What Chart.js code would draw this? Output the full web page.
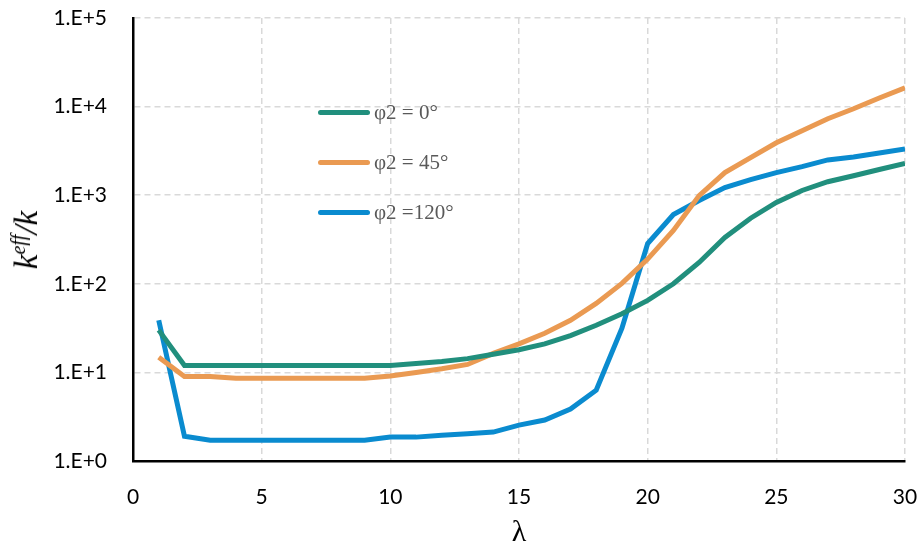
<!DOCTYPE html>
<html>
<head>
<meta charset="utf-8">
<script src="https://cdn.jsdelivr.net/npm/chart.js@4"></script>
<style>
  body { margin: 0; background: #fff; }
  #wrap { position: relative; width: 921px; height: 547px; }
  #legend { position: absolute; left: 318px; top: 87px; font-family: "Liberation Serif", serif; font-size: 21px; color: #595959; }
  #legend .row { height: 50px; display: flex; align-items: center; }
  #legend .swatch { width: 52px; height: 5px; border-radius: 3px; margin-right: 4px; }
  #ytitle { position: absolute; left: 26px; top: 240px; transform: translate(-50%, -50%) rotate(-90deg); font-family: "Liberation Serif", serif; font-style: italic; font-size: 33px; white-space: nowrap; color: #000; }
  #ytitle sup { font-size: 20px; vertical-align: 12px; }
  #xtitle { position: absolute; left: 519px; top: 531px; transform: translate(-50%, -50%); font-family: "Liberation Serif", serif; font-size: 30px; color: #000; }
</style>
</head>
<body>
<div id="wrap">
  <canvas id="myChart" width="921" height="547"></canvas>
  <div id="legend"></div>
  <div id="ytitle">k<sup>eff</sup>/k</div>
  <div id="xtitle">λ</div>
</div>
<script>
// x values (lambda)
const lambda = [1, 2, 3, 4, 5, 6, 7, 8, 9, 10, 11, 12, 13, 14, 15, 16, 17, 18, 19, 20, 21, 22, 23, 24, 25, 26, 27, 28, 29, 30];

// keff/k for each phi2
const phi0 = [30, 12, 12, 12, 12, 12, 12, 12, 12, 12, 12.6, 13.3, 14.3, 16, 18, 21, 26, 34, 46, 65, 100, 174, 333, 550, 830, 1130, 1420, 1660, 1950, 2280];
const phi45 = [14.8, 9.0, 9.0, 8.6, 8.6, 8.6, 8.6, 8.6, 8.6, 9.1, 10, 11, 12.3, 16.4, 21, 27.6, 38.7, 60, 101, 190, 400, 990, 1800, 2660, 3900, 5330, 7300, 9450, 12500, 16300];
const phi120 = [38.7, 1.9, 1.72, 1.72, 1.72, 1.72, 1.72, 1.72, 1.72, 1.86, 1.86, 1.95, 2.03, 2.12, 2.54, 2.9, 3.85, 6.3, 31.6, 285, 605, 870, 1220, 1500, 1800, 2100, 2500, 2700, 3000, 3330];

const seriesLabels = ['φ2 = 0°', 'φ2 = 45°', 'φ2 =120°'];
const seriesColors = ['#218f7d', '#ea9a52', '#0a8bcf'];
const yTicks = [1, 10, 100, 1000, 10000, 100000];

function pts(vals) {
  return lambda.map((x, i) => ({ x: x, y: vals[i] }));
}

const data = {
  datasets: [phi0, phi45, phi120].map((vals, i) => ({
    label: seriesLabels[i],
    data: pts(vals),
    borderColor: seriesColors[i],
    backgroundColor: seriesColors[i],
    borderWidth: 5,
    pointRadius: 0,
    tension: 0,
    fill: false
  }))
};

const tickFont = { family: 'Lato', size: 21 };

const config = {
  type: 'line',
  data: data,
  options: {
    responsive: false,
    animation: false,
    devicePixelRatio: 1,
    layout: { padding: { top: 18, right: 16, left: 0, bottom: 0 } },
    plugins: {
      legend: { display: false },
      tooltip: { enabled: false }
    },
    scales: {
      x: {
        type: 'linear',
        min: 0,
        max: 30,
        afterFit: s => { s.height = 86; s.paddingLeft = 0; s.paddingRight = 0; },
        ticks: {
          stepSize: 5,
          padding: 24,
          color: '#000',
          font: tickFont
        },
        grid: {
          drawTicks: false,
          lineWidth: 1.5,
          color: ctx => (ctx.tick && ctx.tick.value === 0) ? 'rgba(0,0,0,0)' : '#d9d9d9'
        },
        border: { display: true, color: '#000', width: 2.5, dash: [6, 4] }
      },
      y: {
        type: 'logarithmic',
        min: 1,
        max: 100000,
        afterFit: s => { s.width = 133; s.paddingTop = 0; s.paddingBottom = 0; },
        afterBuildTicks: s => { s.ticks = yTicks.map(v => ({ value: v })); },
        ticks: {
          padding: 26,
          color: '#000',
          font: tickFont,
          callback: v => '1.E+' + Math.round(Math.log10(v))
        },
        grid: {
          drawTicks: false,
          lineWidth: 1.5,
          color: ctx => (ctx.tick && ctx.tick.value === 1) ? 'rgba(0,0,0,0)' : '#d9d9d9'
        },
        border: { display: true, color: '#000', width: 2.5, dash: [6, 4] }
      }
    }
  }
};

const myChart = new Chart(document.getElementById('myChart'), config);

// HTML legend built from datasets
const legend = document.getElementById('legend');
data.datasets.forEach(ds => {
  const row = document.createElement('div');
  row.className = 'row';
  const sw = document.createElement('div');
  sw.className = 'swatch';
  sw.style.background = ds.borderColor;
  const tx = document.createElement('span');
  tx.textContent = ds.label;
  row.appendChild(sw);
  row.appendChild(tx);
  legend.appendChild(row);
});
</script>
</body>
</html>
